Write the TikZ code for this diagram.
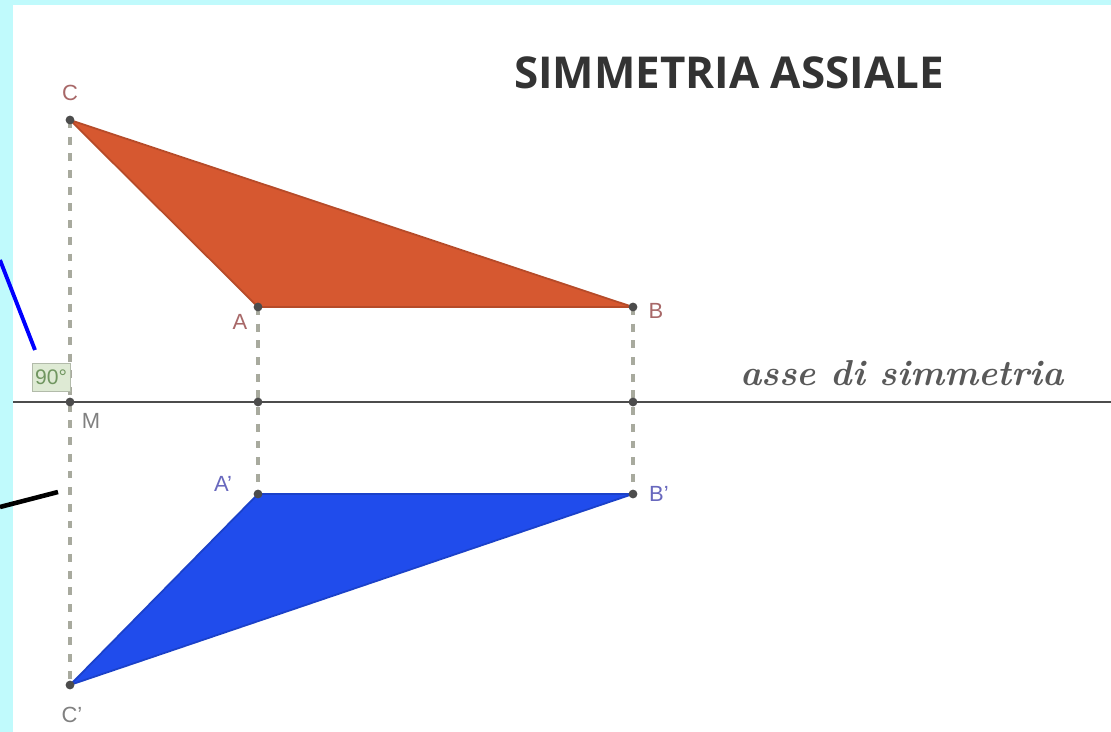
\documentclass[tikz,border=0pt]{standalone}
\usepackage{fontspec}
\setsansfont{Liberation Sans}
\newfontfamily\titlefont{Open Sans}

\definecolor{bordo}{RGB}{192,250,252}
\definecolor{arancio}{RGB}{214,88,48}
\definecolor{blu}{RGB}{32,76,236}
\definecolor{rossetto}{RGB}{168,104,104}
\definecolor{viola}{RGB}{104,104,190}
\definecolor{verdino}{RGB}{222,234,212}
\definecolor{verdone}{RGB}{112,150,96}
\definecolor{grigiotratto}{RGB}{168,170,158}

\begin{document}
\begin{tikzpicture}[x=0.02cm,y=-0.02cm,
	punto/.style={circle,fill=black!70,inner sep=0pt,minimum size=5pt},
	proiez/.style={draw=grigiotratto,line width=2.2pt,dash pattern=on 4.5pt off 5pt},
	etic/.style={font=\sffamily\fontsize{12.5}{12.5}\selectfont,inner sep=0pt}]
%
	\useasboundingbox (0,0) rectangle (1111,732);
	\fill[bordo] (0,0) rectangle (1111,732);
	\fill[white] (13,5) rectangle (1111,732);
%
	\coordinate (C) at (70,120);
	\coordinate (A) at (258,307);
	\coordinate (B) at (633,307);
	\coordinate (M) at (70,402);
	\coordinate (MA) at (258,402);
	\coordinate (MB) at (633,402);
	\coordinate (Cp) at (70,685);
	\coordinate (Ap) at (258,494);
	\coordinate (Bp) at (633,494);
	\coordinate (asseS) at (13,402);
	\coordinate (asseD) at (1111,402);
%
	\draw[proiez] (C) -- (Cp);
	\draw[proiez] (A) -- (Ap);
	\draw[proiez] (B) -- (Bp);
	\draw[black!70,line width=1.6pt] (asseS) -- (asseD);
%
	\fill[arancio] (C) -- (A) -- (B) -- cycle;
	\draw[arancio!85!black,line width=1pt,line join=round] (C) -- (A) -- (B) -- cycle;
	\fill[blu] (Cp) -- (Ap) -- (Bp) -- cycle;
	\draw[blu!85!black,line width=1pt,line join=round] (Cp) -- (Ap) -- (Bp) -- cycle;
%
	\foreach \p in {C,A,B,M,MA,MB,Cp,Ap,Bp}
		\node[punto] (dot\p) at (\p) {};
%
	\node[etic,text=rossetto] (lC) at (70,93) {C};
	\node[etic,text=rossetto] (lA) at (240,322) {A};
	\node[etic,text=rossetto] (lB) at (656,311) {B};
	\node[etic,text=black!50] (lM) at (91,421) {M};
	\node[etic,text=viola] (lAp) at (223,484) {A'};
	\node[etic,text=viola] (lBp) at (659,494) {B'};
	\node[etic,text=black!50] (lCp) at (72,715) {C'};
	\node[fill=verdino,draw=verdino!80!black,minimum width=38*0.02cm,minimum height=28*0.02cm,
		inner sep=0pt,font=\sffamily\fontsize{12}{12}\selectfont,text=verdone] (angolo) at (51,377) {90°};
%
	\node[font=\titlefont\bfseries\fontsize{25}{25}\selectfont,text=black!80,inner sep=0pt] (titolo) at (729,73) {SIMMETRIA ASSIALE};
	\node[font=\bfseries\itshape\fontsize{20.5}{20.5}\selectfont,text=black!65,inner sep=0pt,anchor=base] (nomeasse) at (902,386) {asse di simmetria};
%
	\coordinate (frecciaB) at (0,260);
	\coordinate (frecciaB2) at (35,350);
	\coordinate (frecciaN) at (0,507);
	\coordinate (frecciaN2) at (58,492);
	\draw[blue,line width=2.2pt] (frecciaB) -- (frecciaB2);
	\draw[black,line width=2.6pt] (frecciaN) -- (frecciaN2);
\end{tikzpicture}
\end{document}
